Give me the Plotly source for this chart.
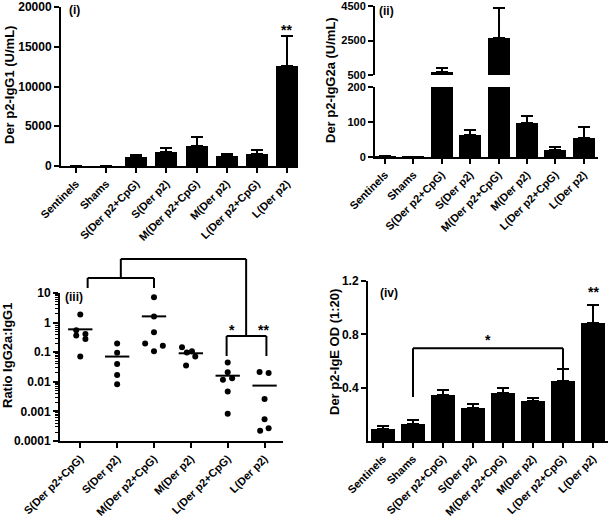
import plotly.graph_objects as go
import numpy as np

FONT = 'Liberation Sans, Arial, sans-serif'

# --- data ---
groups = ['Sentinels', 'Shams', 'S(Der p2+CpG)', 'S(Der p2)',
          'M(Der p2+CpG)', 'M(Der p2)', 'L(Der p2+CpG)', 'L(Der p2)']
ratio_groups = groups[2:]

# (i) Der p2-IgG1 (U/mL), mean and SEM
igg1_mean = [0, 0, 1150, 1780, 2570, 1240, 1570, 12600]
igg1_err = [0, 0, 180, 540, 1120, 210, 500, 3700]
igg1_ticks = [0, 5000, 10000, 15000, 20000]

# (ii) Der p2-IgG2a (U/mL)
igg2a_mean = [2, 0.5, 690, 62, 2650, 96, 20, 55]
igg2a_err = [1, 0, 230, 15, 1750, 22, 9, 31]

# (iii) ratio IgG2a:IgG1, individual animals
ratio_s_cpg = [1.87, 0.55, 0.37, 0.41, 0.28, 0.072]
ratio_s_p2 = [0.195, 0.096, 0.040, 0.017, 0.0083]
ratio_m_cpg = [7.2, 1.6, 0.47, 0.195, 0.166, 0.107]
ratio_m_p2 = [0.146, 0.0986, 0.107, 0.072, 0.0357]
ratio_l_cpg = [0.045, 0.021, 0.0117, 0.0133, 0.0047, 0.00083]
ratio_l_p2 = [0.0213, 0.0197, 0.0026, 0.00054, 0.00022, 0.00027]
# horizontal scatter of the dots (category units)
jit_s_cpg = [0, -0.11, -0.11, 0.14, 0.14, 0]
jit_s_p2 = [0, 0, 0, 0, 0]
jit_m_cpg = [0, 0, 0, -0.24, 0.24, 0]
jit_m_p2 = [-0.24, -0.11, 0.03, 0.12, -0.13]
jit_l_cpg = [0, 0, -0.13, 0.12, 0, 0]
jit_l_p2 = [-0.135, 0.11, 0, 0, -0.12, 0.11]

# (iv) Der p2-IgE OD (1:20)
ige_mean = [0.09, 0.13, 0.344, 0.244, 0.357, 0.30, 0.45, 0.887]
ige_err = [0.025, 0.027, 0.036, 0.033, 0.043, 0.02, 0.09, 0.13]

W, H = 610, 520


def px_x(a, b):
    return [a / W, b / W]


def px_y(top, bottom):
    return [1 - bottom / H, 1 - top / H]


def tfont(size=12):
    return dict(family=FONT, size=size, color='black', weight='bold')


def ax(**kw):
    d = dict(showline=True, linecolor='black', linewidth=2, ticks='outside',
             ticklen=5, tickwidth=2, tickcolor='black', showgrid=False,
             zeroline=False, automargin=False, ticklabeloverflow='allow',
             tickfont=tfont(12))
    d.update(kw)
    return d


def cat_ax(labels, **kw):
    # category axis with slanted group names
    return ax(tickvals=list(range(len(labels))), ticktext=labels,
              tickangle=-45, tickfont=tfont(11), **kw)


def bar(x, y, err, w, xa, ya):
    return go.Bar(
        x=x, y=y, width=w, xaxis=xa, yaxis=ya,
        marker=dict(color='black', line=dict(width=0)),
        error_y=dict(type='data', array=err, arrayminus=[0] * len(err),
                     symmetric=False, color='black', thickness=2, width=6),
        showlegend=False, hoverinfo='skip')


fig = go.Figure()
idx = list(range(len(groups)))

# (i)
fig.add_trace(bar(idx, igg1_mean, igg1_err, 0.73, 'x', 'y'))
# (ii) lower and upper parts of the broken axis
fig.add_trace(bar(idx, igg2a_mean, igg2a_err, 0.77, 'x2', 'y2'))
fig.add_trace(bar(idx, igg2a_mean, igg2a_err, 0.77, 'x2', 'y3'))
# (iv)
fig.add_trace(bar(idx, ige_mean, ige_err, 0.8, 'x4', 'y5'))

# (iii) dot plot with mean lines
ratios = [ratio_s_cpg, ratio_s_p2, ratio_m_cpg, ratio_m_p2, ratio_l_cpg, ratio_l_p2]
jits = [jit_s_cpg, jit_s_p2, jit_m_cpg, jit_m_p2, jit_l_cpg, jit_l_p2]
for i, (vals, jit) in enumerate(zip(ratios, jits)):
    fig.add_trace(go.Scatter(
        x=[i + j for j in jit], y=vals, mode='markers', xaxis='x3', yaxis='y4',
        marker=dict(color='black', size=6), showlegend=False, hoverinfo='skip'))
    m = float(np.mean(vals))
    fig.add_trace(go.Scatter(
        x=[i - 0.33, i + 0.33], y=[m, m], mode='lines', xaxis='x3', yaxis='y4',
        line=dict(color='black', width=2), showlegend=False, hoverinfo='skip'))

minor_vals = [k * 10 ** e for e in range(-4, 1) for k in range(2, 10)]

fig.update_layout(
    width=W, height=H, margin=dict(l=0, r=0, t=0, b=0, autoexpand=False),
    paper_bgcolor='white', plot_bgcolor='white', bargap=0,
    font=dict(family=FONT, color='black'),
    xaxis=cat_ax(groups, domain=px_x(61, 298), anchor='y', range=[-0.5, 7.37]),
    yaxis=ax(domain=px_y(7, 166), anchor='x', range=[0, 20000],
             tickvals=igg1_ticks, ticktext=[str(t) for t in igg1_ticks]),
    xaxis2=cat_ax(groups, domain=px_x(375, 598), anchor='y2', range=[-0.35, 7.5]),
    yaxis2=ax(domain=px_y(87, 157), anchor='x2', range=[0, 200],
              tickvals=[0, 100, 200], tickfont=tfont(11)),
    yaxis3=ax(domain=px_y(6, 75), anchor='x2', range=[500, 4500],
              tickvals=[500, 2500, 4500], ticktext=['500', '2500', '4500'],
              tickfont=tfont(11)),
    xaxis3=cat_ax(ratio_groups, domain=px_x(60, 283), anchor='y4', range=[-0.55, 5.5]),
    yaxis4=ax(domain=px_y(293, 441), anchor='x3', type='log', range=[-4, 1],
              tickvals=[0.0001, 0.001, 0.01, 0.1, 1, 10],
              ticktext=['0.0001', '0.001', '0.01', '0.1', '1', '10'],
              minor=dict(tickmode='array', tickvals=minor_vals, ticks='outside',
                         ticklen=3, tickwidth=1, tickcolor='black')),
    xaxis4=cat_ax(groups, domain=px_x(368, 608), anchor='y5', range=[-0.5, 7.5]),
    yaxis5=ax(domain=px_y(281, 441), anchor='x4', range=[0, 1.2],
              tickvals=[0.4, 0.8, 1.2], ticktext=['0.4', '0.8', '1.2']),
)

# axis titles
titles = [
    ('Der p2-IgG1 (U/mL)', 10, 85),
    ('Der p2-IgG2a (U/mL)', 330, 80),
    ('Ratio IgG2a:IgG1', 7, 356),
    ('Der p2-IgE OD (1:20)', 334, 352),
]
for text, x, y in titles:
    fig.add_annotation(text=text, x=x / W, y=1 - y / H, xref='paper', yref='paper',
                       textangle=-90, showarrow=False, font=tfont(13),
                       xanchor='center', yanchor='middle')

# panel labels
for text, x, y in [('(i)', 67, 10), ('(ii)', 377, 11), ('(iii)', 63, 297), ('(iv)', 378, 293)]:
    fig.add_annotation(text=text, x=x / W, y=1 - y / H, xref='paper', yref='paper',
                       showarrow=False, font=tfont(12), xanchor='left', yanchor='middle')

# significance marks
fig.add_annotation(text='**', x=7, y=17100, xref='x', yref='y', showarrow=False,
                   font=tfont(14), yanchor='middle')
fig.add_annotation(text='**', x=7, y=1.12, xref='x4', yref='y5', showarrow=False,
                   font=tfont(14), yanchor='middle')
fig.add_annotation(text='*', x=3.5, y=0.755, xref='x4', yref='y5', showarrow=False,
                   font=tfont(14), yanchor='middle')
fig.add_annotation(text='*', x=232 / W, y=1 - 330 / H, xref='paper', yref='paper',
                   showarrow=False, font=tfont(14), yanchor='middle')
fig.add_annotation(text='**', x=263 / W, y=1 - 330 / H, xref='paper', yref='paper',
                   showarrow=False, font=tfont(14), yanchor='middle')

line = dict(color='black', width=2)
# (iii) brackets
pb = lambda y: 1 - y / H
brackets_iii = [
    (1.1, pb(259), 4.5, pb(259)),
    (1.1, pb(259), 1.1, pb(278)),
    (0.2, pb(278), 2.0, pb(278)),
    (0.2, pb(278), 0.2, pb(288)),
    (2.0, pb(278), 2.0, pb(288)),
    (4.5, pb(259), 4.5, pb(336)),
    (3.97, pb(336), 5.05, pb(336)),
    (3.97, pb(336), 3.97, pb(356)),
    (5.05, pb(336), 5.05, pb(356)),
]
for x0, y0, x1, y1 in brackets_iii:
    fig.add_shape(type='line', x0=x0, y0=y0, x1=x1, y1=y1, xref='x3', yref='paper', line=line)

# (iv) bracket Shams vs L(Der p2+CpG)
for x0, y0, x1, y1 in [(1, 0.695, 6, 0.695), (1, 0.695, 1, 0.33), (6, 0.695, 6, 0.40)]:
    fig.add_shape(type='line', x0=x0, y0=y0, x1=x1, y1=y1, xref='x4', yref='y5', line=line)

# the page's default body margin would push the 610x520 figure off the window
fig.write_html('out.html', config={'displayModeBar': False},
               post_script="document.body.style.margin='0';")
